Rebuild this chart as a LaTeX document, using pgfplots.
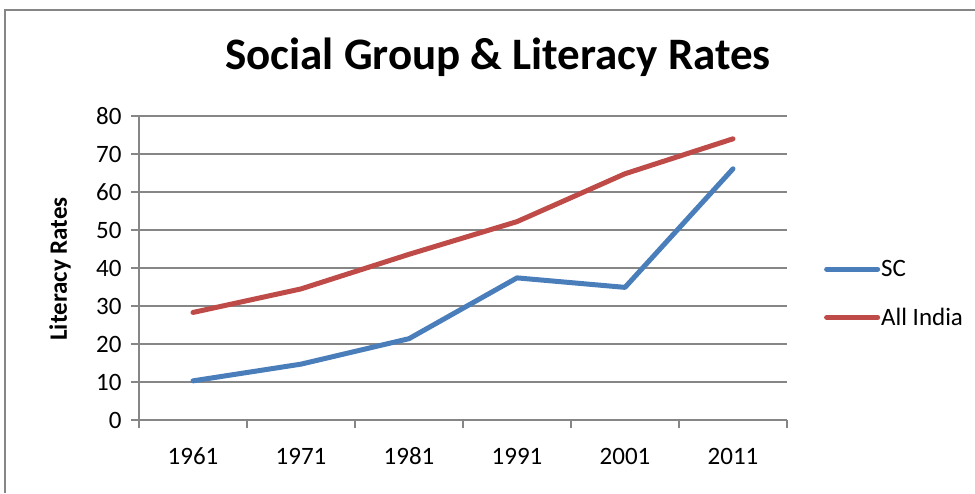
\documentclass[border=0pt]{standalone}
\usepackage{fontspec}
\setmainfont{Carlito}
\usepackage{pgfplots}
\pgfplotsset{compat=1.18}

\definecolor{scblue}{HTML}{4A7EBB}
\definecolor{allred}{HTML}{BE4B48}
\definecolor{gridgray}{HTML}{868686}

\begin{document}
\begin{tikzpicture}
\useasboundingbox (0pt,0pt) rectangle (975pt,493pt);
% chart area frame
\draw[gridgray, line width=2pt] (5pt,0pt) -- (5pt,483pt) -- (975pt,483pt);
% title
\node[font=\fontsize{45}{54}\selectfont\bfseries] at (498pt,436pt) {Social Group \& Literacy Rates};

\begin{axis}[
  at={(139pt,73pt)}, anchor=south west,
  scale only axis, width=648pt, height=304pt,
  xmin=0.5, xmax=6.5, ymin=0, ymax=80,
  axis lines*=left,
  axis line style={-, gridgray, line width=1.5pt},
  xtick={1,2,3,4,5,6},
  xticklabels={1961,1971,1981,1991,2001,2011},
  minor xtick={0.5,1.5,2.5,3.5,4.5,5.5,6.5},
  ytick={0,10,...,80},
  ymajorgrids,
  grid style={gridgray, line width=1.5pt},
  tick align=outside,
  major tick length=8pt, minor tick length=8pt,
  x tick style={draw=none},
  minor x tick style={draw=gridgray, line width=1.5pt},
  y tick style={gridgray, line width=1.5pt},
  tick label style={font=\fontsize{25}{30}\selectfont},
  xticklabel style={text height=16pt, text depth=0pt, yshift=-17pt},
  yticklabel style={xshift=-6pt},
  /pgf/number format/assume math mode=true,
  ylabel={Literacy Rates},
  every axis y label/.style={at={(axis description cs:-0.122,0.497)}, rotate=90, anchor=center, font=\fontsize{25}{30}\selectfont\bfseries},
  clip=false,
  legend style={draw=none, fill=none, at={(axis description cs:1.057,0.416)}, anchor=west,
    font=\fontsize{25}{30}\selectfont, row sep=28pt, inner sep=0pt,
    nodes={inner sep=1pt}},
  legend cell align=left,
  legend image code/.code={\draw[#1] (0pt,0pt) -- (51pt,0pt);},
]
\addplot[scblue, line width=5pt, line cap=round, line join=round] coordinates {
  (1,10.3) (2,14.7) (3,21.4) (4,37.4) (5,34.9) (6,66.1)
};
\addlegendentry{SC}
\addplot[allred, line width=5pt, line cap=round, line join=round] coordinates {
  (1,28.3) (2,34.5) (3,43.6) (4,52.2) (5,64.8) (6,74.0)
};
\addlegendentry{All India}
\end{axis}
\end{tikzpicture}
\end{document}
